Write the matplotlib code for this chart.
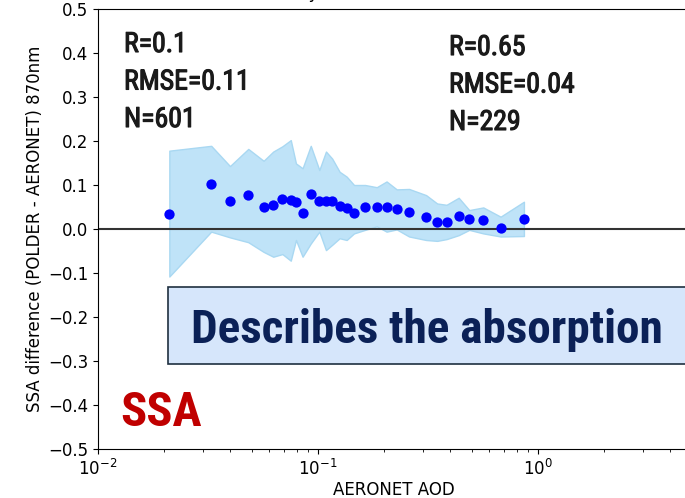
import matplotlib
matplotlib.use("Agg")
import matplotlib.pyplot as plt
from matplotlib import font_manager as fm
from matplotlib import patheffects as pe
from matplotlib.patches import Rectangle
import numpy as np

# ---- data ----
aod = [0.0211, 0.0327, 0.0398, 0.0482, 0.0566, 0.0626, 0.0689, 0.0752, 0.0794, 0.0851,
       0.0927, 0.1014, 0.1087, 0.1160, 0.1254, 0.1350, 0.1458, 0.1637, 0.1850, 0.2050,
       0.2280, 0.2594, 0.3100, 0.3480, 0.3840, 0.4360, 0.4870, 0.5640, 0.6760, 0.8630]
ssa_diff = [0.033, 0.102, 0.064, 0.077, 0.051, 0.055, 0.068, 0.066, 0.061, 0.036,
            0.080, 0.063, 0.064, 0.064, 0.052, 0.048, 0.036, 0.051, 0.051, 0.051,
            0.045, 0.039, 0.027, 0.017, 0.017, 0.030, 0.022, 0.021, 0.003, 0.023]
upper = [0.178, 0.189, 0.143, 0.182, 0.155, 0.176, 0.188, 0.202, 0.149, 0.138,
         0.189, 0.134, 0.176, 0.160, 0.130, 0.119, 0.100, 0.100, 0.095, 0.108,
         0.090, 0.091, 0.077, 0.058, 0.055, 0.071, 0.043, 0.049, 0.028, 0.062]
lower = [-0.108, -0.006, -0.019, -0.030, -0.052, -0.063, -0.057, -0.072, -0.025, -0.063,
         -0.033, -0.006, -0.048, -0.036, -0.021, -0.025, -0.010, -0.002, 0.006, -0.006,
         -0.001, -0.017, -0.025, -0.027, -0.023, -0.014, -0.002, -0.010, -0.017, -0.016]

stats_left = ["R=0.1", "RMSE=0.11", "N=601"]
stats_right = ["R=0.65", "RMSE=0.04", "N=229"]
box_text = "Describes the absorption"
big_label = "SSA"
xlabel = "AERONET AOD"
ylabel = "SSA difference (POLDER - AERONET) 870nm"
title = "Binned by AOD (ocean, land)"

# ---- fonts ----
names = {f.name for f in fm.fontManager.ttflist}
def pick(cands):
    for c in cands:
        if c in names:
            return c
    return "DejaVu Sans"
narrow = pick(["Liberation Sans Narrow", "DejaVu Sans Condensed", "Roboto Condensed", "Roboto"])

W, H = 685, 498
fig = plt.figure(figsize=(W / 100, H / 100), dpi=100)
x0, x1, ytop, ybot = 98, 700, 9, 449
ax = fig.add_axes([x0 / W, 1 - ybot / H, (x1 - x0) / W, (ybot - ytop) / H])

ax.fill_between(aod, lower, upper, color="#bfe3f8", edgecolor="#a9d8f2", lw=1, zorder=1)
ax.axhline(0, color="#333333", lw=1.5, zorder=2)
ax.scatter(aod, ssa_diff, s=55, color="#0000ff", zorder=3, linewidths=0)

ax.set_xscale("log")
ax.set_xlim(0.01, 10 ** (-2 + (x1 - x0) / 220))
ax.set_ylim(-0.5, 0.5)
ax.set_yticks(np.arange(-0.5, 0.51, 0.1))
ax.tick_params(labelsize=12)
ax.set_xlabel(xlabel, fontsize=12)
ax.xaxis.set_label_coords((394 - x0) / (x1 - x0), -0.072)
ax.set_ylabel(ylabel, fontsize=12, labelpad=3)

# clipped title (only descenders visible, as in the reference)
fig.text(355 / W, 1 + 1.5 / H, title, ha="center", va="baseline", fontsize=12)

# stats text
fx = [pe.withStroke(linewidth=0.8, foreground="#1a1a1a")]
for i, s in enumerate(stats_left):
    fig.text(124 / W, 1 - (52 + i * 37.5) / H, s, fontsize=20,
             family=[narrow, "DejaVu Sans"], color="#1a1a1a", va="baseline", path_effects=fx)
for i, s in enumerate(stats_right):
    fig.text(449 / W, 1 - (55 + i * 37.5) / H, s, fontsize=20,
             family=[narrow, "DejaVu Sans"], color="#1a1a1a", va="baseline", path_effects=fx)

# box
rect = Rectangle((168 / W, 1 - 364 / H), (700 - 168) / W, (364 - 287) / H,
                 transform=fig.transFigure, facecolor="#d6e6fb", edgecolor="#1f3040",
                 lw=1.2, zorder=5)
fig.patches.append(rect)
fig.text(191 / W, 1 - 343 / H, box_text, fontsize=34, fontweight="bold",
         family=[narrow, "DejaVu Sans"], color="#0b2157", va="baseline", zorder=6)

fig.text(120 / W, 1 - 426 / H, big_label, fontsize=35, fontweight="bold",
         family=[narrow, "DejaVu Sans"], color="#c00000", va="baseline")

fig.savefig("out.png", dpi=100)
